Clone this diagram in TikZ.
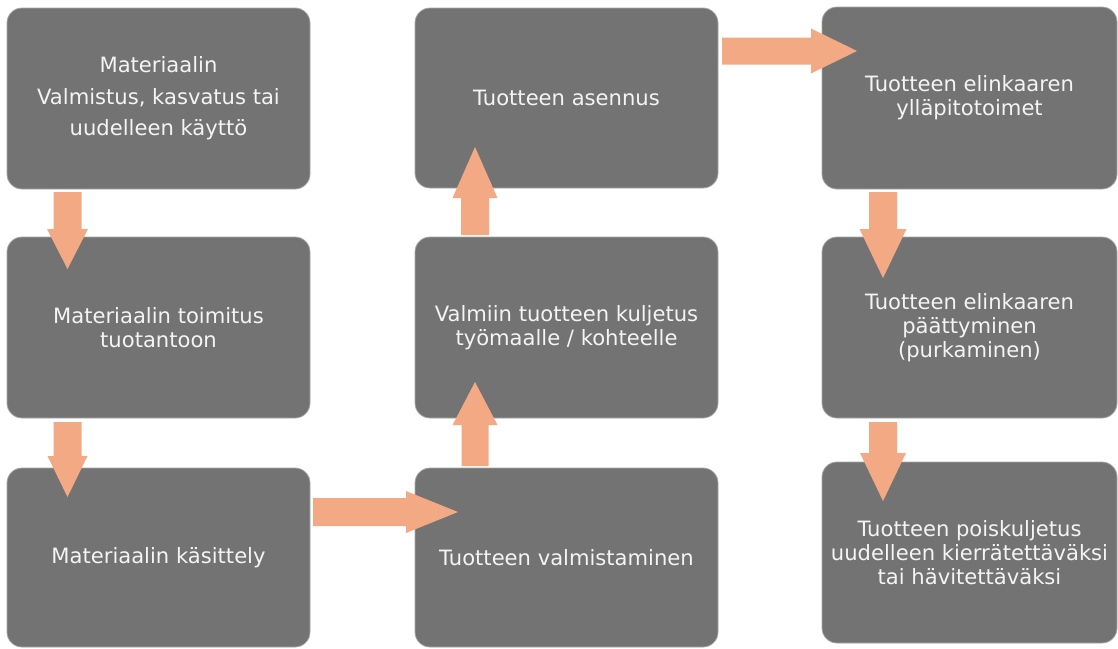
\documentclass[tikz,border=0pt]{standalone}
\usepackage{fontspec}
\setmainfont{DejaVu Sans}
\usetikzlibrary{calc}
\definecolor{boxfill}{HTML}{737373}
\definecolor{boxline}{HTML}{A6A6A6}
\definecolor{boxtext}{HTML}{F4F4F4}
\definecolor{arrowc}{HTML}{F3AA84}
\newcommand\blockarrow[5]{%
  \coordinate (tmpC) at ($(#2)!#5!(#1)$);
  \fill[arrowc] ($(#1)!#3!90:(#2)$) -- ($(tmpC)!#3!90:(#2)$) -- ($(tmpC)!#4!90:(#2)$)
    -- (#2) -- ($(tmpC)!#4!-90:(#2)$) -- ($(tmpC)!#3!-90:(#2)$) -- ($(#1)!#3!-90:(#2)$) -- cycle;
}
\begin{document}
\begin{tikzpicture}[x=1pt,y=-1pt,
  flowbox/.style={rectangle, rounded corners=15pt, fill=boxfill, draw=boxline,
    line width=0.8pt, inner sep=0pt, outer sep=0pt, text=boxtext, align=center,
    font=\fontsize{21.1}{24}\selectfont}]
\useasboundingbox (0,0) rectangle (1118,648);
% column 1
\node[flowbox, minimum width=303pt, minimum height=181pt,
  font=\fontsize{21.1}{31.5}\selectfont] (b11) at (158.5,98.5)
  {Materiaalin\\Valmistus, kasvatus tai\\uudelleen käyttö};
\node[flowbox, minimum width=303pt, minimum height=181pt] (b21) at (158.5,327.5)
  {Materiaalin toimitus\\tuotantoon};
\node[flowbox, minimum width=303pt, minimum height=179pt] (b31) at (158.5,557.5)
  {Materiaalin käsittely};
% column 2
\node[flowbox, minimum width=303pt, minimum height=180pt] (b12) at (566.5,98)
  {Tuotteen asennus};
\node[flowbox, minimum width=303pt, minimum height=181pt] (b22) at (566.5,327.5)
  {Valmiin tuotteen kuljetus\\työmaalle / kohteelle};
\node[flowbox, minimum width=303pt, minimum height=179pt] (b32) at (566.5,557.5)
  {Tuotteen valmistaminen};
% column 3
\node[flowbox, minimum width=295pt, minimum height=182pt] (b13) at (969.5,98)
  {Tuotteen elinkaaren\\ylläpitotoimet};
\node[flowbox, minimum width=295pt, minimum height=181pt] (b23) at (969.5,327.5)
  {Tuotteen elinkaaren\\päättyminen\\(purkaminen)};
\node[flowbox, minimum width=295pt, minimum height=181pt] (b33) at (969.5,552.5)
  {Tuotteen poiskuljetus\\uudelleen kierrätettäväksi\\tai hävitettäväksi};
% arrow end points
\coordinate (a1s) at ($(b11.south west)+(60.5,3)$);
\coordinate (a1e) at ($(b21.north west)+(60.5,32)$);
\coordinate (a2s) at ($(b21.south west)+(60.5,4)$);
\coordinate (a2e) at ($(b31.north west)+(60.5,29)$);
\coordinate (a3s) at ($(b31.east)+(3,-45.5)$);
\coordinate (a3e) at ($(b32.west)+(43,-45.5)$);
\coordinate (a4s) at ($(b32.north west)+(60,-2)$);
\coordinate (a4e) at ($(b22.south west)+(60,-36)$);
\coordinate (a5s) at ($(b22.north west)+(60,-2)$);
\coordinate (a5e) at ($(b12.south west)+(60,-41)$);
\coordinate (a6s) at ($(b12.north east)+(4,43)$);
\coordinate (a6e) at ($(b13.north west)+(35,44)$);
\coordinate (a7s) at ($(b13.south west)+(61,3)$);
\coordinate (a7e) at ($(b23.north west)+(61,41)$);
\coordinate (a8s) at ($(b23.south west)+(61,4)$);
\coordinate (a8e) at ($(b33.north west)+(61,39)$);
% block arrows
\blockarrow{a1s}{a1e}{14pt}{20.5pt}{40pt}
\blockarrow{a2s}{a2e}{14pt}{20pt}{41pt}
\blockarrow{a3s}{a3e}{14pt}{21pt}{52pt}
\blockarrow{a4s}{a4e}{13.5pt}{22.5pt}{43pt}
\blockarrow{a5s}{a5e}{14pt}{22.5pt}{51pt}
\blockarrow{a6s}{a6e}{13.5pt}{22.5pt}{46pt}
\blockarrow{a7s}{a7e}{14pt}{23.5pt}{49pt}
\blockarrow{a8s}{a8e}{14pt}{23pt}{48pt}
\end{tikzpicture}
\end{document}
